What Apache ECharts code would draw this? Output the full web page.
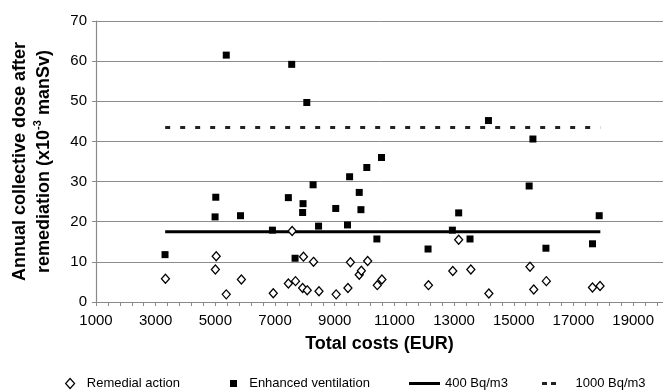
<!DOCTYPE html>
<html>
<head>
<meta charset="utf-8">
<script src="https://cdn.jsdelivr.net/npm/echarts@6/dist/echarts.min.js"></script>
<style>
html,body{margin:0;padding:0;background:#fff;}
#c{width:663px;height:390px;}
</style>
</head>
<body>
<div id="c"></div>
<script>
// ---- Data ----
const remedialX = [3327, 5028, 5000, 5365, 5872, 6940, 7446, 7572, 7685, 7952, 7924, 8078, 8289, 8472, 9048, 9442, 9526, 9821, 9892, 10103, 10426, 10581, 12141, 12956, 13153, 13561, 14165, 15543, 15669, 16091, 17637, 17890];
const remedialY = [5.8, 11.4, 8.1, 1.9, 5.6, 2.2, 4.6, 17.7, 5.2, 11.3, 3.5, 2.9, 10.0, 2.7, 1.9, 3.5, 9.9, 6.8, 7.8, 10.2, 4.2, 5.6, 4.2, 7.7, 15.5, 8.1, 2.1, 8.8, 3.1, 5.2, 3.6, 4.0];

const ventX = [3313, 5365, 5014, 4990, 5843, 6912, 7446, 7558, 7671, 7938, 7924, 8064, 8275, 8458, 9034, 9428, 9498, 9821, 9878, 10075, 10412, 10567, 12127, 12942, 13153, 13533, 14151, 15515, 15641, 16077, 17637, 17862];
const ventY = [11.8, 61.5, 26.1, 21.2, 21.5, 17.9, 26.0, 59.2, 10.9, 24.5, 22.3, 49.7, 29.2, 18.9, 23.3, 19.2, 31.2, 27.3, 23.0, 33.5, 15.7, 36.0, 13.2, 17.9, 22.2, 15.7, 45.2, 28.9, 40.6, 13.4, 14.5, 21.5];

const line400X = [3318, 17900];
const line400Y = [17.5, 17.5];
const line1000X = [3318, 17900];
const line1000Y = [43.5, 43.5];

const xTickLabels = [1000, 3000, 5000, 7000, 9000, 11000, 13000, 15000, 17000, 19000];
const yTickLabels = [0, 10, 20, 30, 40, 50, 60, 70];

const seriesNames = ['Remedial action', 'Enhanced ventilation', '400 Bq/m3', '1000 Bq/m3'];

// ---- Build ----
const zip = (xs, ys) => xs.map((x, i) => [x, ys[i]]);
const FONT = "'Liberation Sans', Arial, sans-serif";

const chart = echarts.init(document.getElementById('c'), null, {renderer: 'canvas'});

const legendBase = {
  orient: 'horizontal',
  top: 372,
  itemGap: 0,
  textStyle: {fontFamily: FONT, fontSize: 13, color: '#000'},
  selectedMode: false
};

chart.setOption({
  animation: false,
  backgroundColor: '#fff',
  grid: {left: 96, top: 21, width: 570, height: 281, containLabel: false},
  xAxis: {
    type: 'value',
    min: xTickLabels[0],
    max: 20000,
    interval: 2000,
    name: 'Total costs (EUR)',
    nameLocation: 'middle',
    nameGap: 33,
    nameTextStyle: {fontFamily: FONT, fontSize: 18, fontWeight: 'bold', color: '#000'},
    axisLine: {show: true, lineStyle: {color: '#8a8a8a', width: 1.2}},
    axisTick: {show: true, length: 4, lineStyle: {color: '#8a8a8a'}},
    minorTick: {show: true, splitNumber: 5, length: 4, lineStyle: {color: '#8a8a8a'}},
    axisLabel: {fontFamily: FONT, fontSize: 15, color: '#000', margin: 11, showMaxLabel: false,
      formatter: v => xTickLabels.indexOf(v) >= 0 ? String(v) : ''},
    splitLine: {show: false}
  },
  yAxis: {
    type: 'value',
    min: yTickLabels[0],
    max: yTickLabels[yTickLabels.length - 1],
    interval: 10,
    name: '{t|Annual collective dose after}\n{t|remediation (x10}{s|-3}{t| manSv)}',
    nameLocation: 'middle',
    nameRotate: 90,
    nameGap: 40,
    nameTextStyle: {
      fontFamily: FONT, fontSize: 18, fontWeight: 'bold', color: '#000',
      rich: {
        t: {fontFamily: FONT, fontSize: 18, fontWeight: 'bold', color: '#000', lineHeight: 24},
        s: {fontFamily: FONT, fontSize: 11, fontWeight: 'bold', color: '#000', lineHeight: 24, verticalAlign: 'top', padding: [0, 0, 8, 0]}
      }
    },
    axisLine: {show: true, lineStyle: {color: '#8a8a8a', width: 1.2}},
    axisTick: {show: true, length: 4, lineStyle: {color: '#8a8a8a'}},
    axisLabel: {fontFamily: FONT, fontSize: 15, color: '#000', margin: 9},
    splitLine: {show: true, lineStyle: {color: '#8c8c8c', width: 1}}
  },
  legend: [
    Object.assign({}, legendBase, {left: 60, data: [{name: seriesNames[0], icon: 'diamond',
        itemStyle: {color: '#fff', borderColor: '#000', borderWidth: 1.2}}],
      itemWidth: 9, itemHeight: 10, formatter: n => '  ' + n}),
    Object.assign({}, legendBase, {left: 225, data: [{name: seriesNames[1], icon: 'rect',
        itemStyle: {color: '#000', opacity: 1}}],
      itemWidth: 7, itemHeight: 7, formatter: n => '  ' + n}),
    Object.assign({}, legendBase, {left: 404, data: [{name: seriesNames[2], icon: 'rect',
        itemStyle: {color: '#000', opacity: 1}}],
      itemWidth: 31, itemHeight: 3, formatter: n => n}),
    Object.assign({}, legendBase, {left: 537, data: [{name: seriesNames[3],
        icon: 'path://M0,0H5V3H0Z M9,0H14V3H9Z', itemStyle: {color: '#222', opacity: 1}}],
      itemWidth: 14, itemHeight: 3, formatter: n => '    ' + n})
  ],
  series: [
    {
      name: seriesNames[2], type: 'line', data: zip(line400X, line400Y),
      symbol: 'none', z: 1,
      lineStyle: {color: '#000', width: 3, type: 'solid'},
      itemStyle: {color: '#000'}
    },
    {
      name: seriesNames[3], type: 'line', data: zip(line1000X, line1000Y),
      symbol: 'none', z: 1,
      lineStyle: {color: '#222', width: 3, type: [5, 10]},
      itemStyle: {color: '#222'}
    },
    {
      name: seriesNames[0], type: 'scatter', data: zip(remedialX, remedialY),
      symbol: 'diamond', symbolSize: [8, 9], z: 3,
      itemStyle: {color: '#fff', borderColor: '#000', borderWidth: 1.3, opacity: 1}
    },
    {
      name: seriesNames[1], type: 'scatter', data: zip(ventX, ventY),
      symbol: 'rect', symbolSize: 7, z: 4,
      itemStyle: {color: '#000', opacity: 1}
    }
  ]
});
</script>
</body>
</html>
